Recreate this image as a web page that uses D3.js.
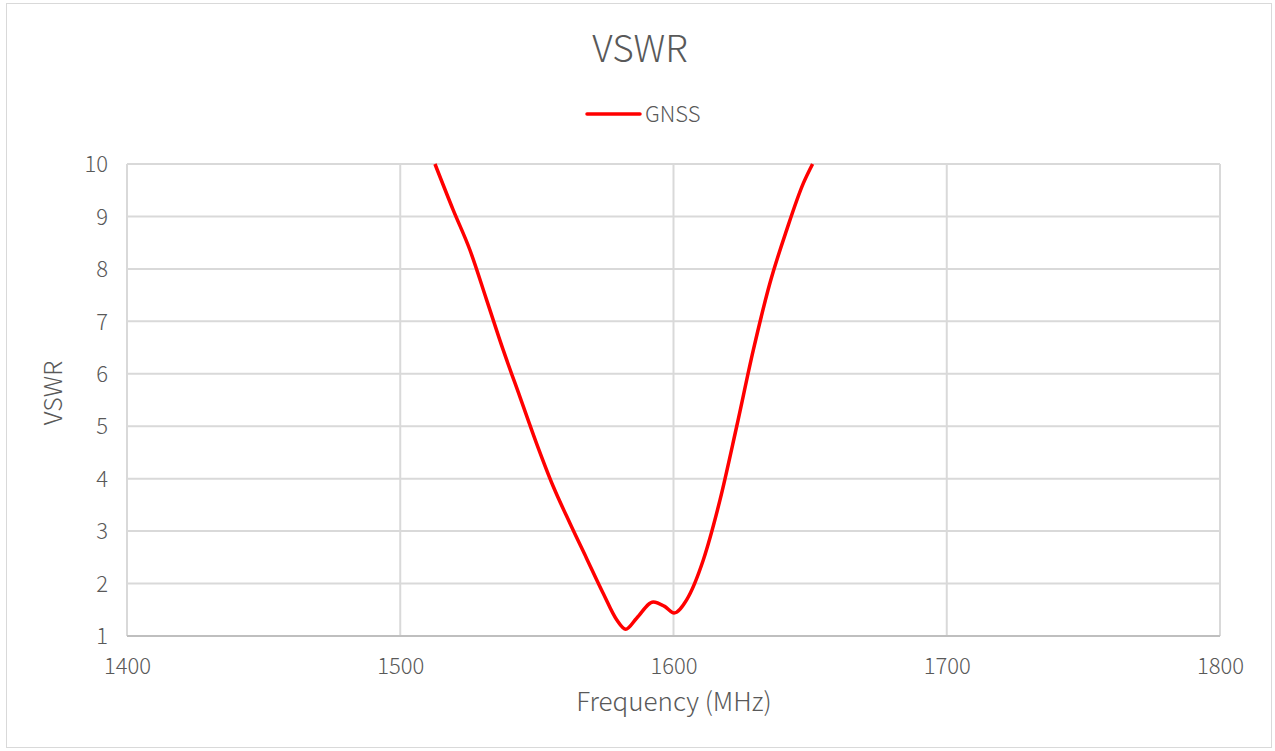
<!DOCTYPE html>
<html><head><meta charset="utf-8">
<script src="https://cdn.jsdelivr.net/npm/d3@7"></script>
<style>body{margin:0;background:#fff}svg{display:block}text{font-family:"Noto Sans CJK SC","Liberation Sans",sans-serif;fill:#595959;font-weight:300}</style>
</head><body>
<script>
const freqs = [1512.7,1519.4,1525.5,1531.6,1537.7,1543.8,1549.9,1556.0,1562.1,1568.2,1574.3,1579.2,1582.5,1586.5,1592.6,1596.9,1600.2,1604.8,1610.9,1617.0,1623.1,1629.2,1635.3,1641.4,1647.5,1650.9];
const vswr  = [10.0,9.12,8.36,7.41,6.45,5.56,4.67,3.85,3.15,2.48,1.81,1.31,1.13,1.34,1.65,1.56,1.44,1.69,2.45,3.59,4.99,6.45,7.73,8.74,9.63,10.0];
const xTicks = [1400,1500,1600,1700,1800];
const yTicks = [1,2,3,4,5,6,7,8,9,10];
const seriesName = "GNSS";

const W=1275,H=751;
const m={left:127,right:1220,top:164,bottom:636};
const svg=d3.select("body").append("svg").attr("width",W).attr("height",H);
svg.append("rect").attr("x",6.5).attr("y",3.5).attr("width",1265).attr("height",744).attr("fill","#fff").attr("stroke","#d9d9d9");
const x=d3.scaleLinear().domain([1400,1800]).range([m.left,m.right]);
const y=d3.scaleLinear().domain([1,10]).range([m.bottom,m.top]);

// gridlines
svg.append("g").selectAll("line").data(yTicks.filter(d=>d>1)).join("line")
 .attr("x1",m.left).attr("x2",m.right).attr("y1",d=>y(d)).attr("y2",d=>y(d))
 .attr("stroke","#d9d9d9").attr("stroke-width",2);
svg.append("g").selectAll("line").data(xTicks).join("line")
 .attr("x1",d=>x(d)).attr("x2",d=>x(d)).attr("y1",m.top).attr("y2",m.bottom)
 .attr("stroke","#d9d9d9").attr("stroke-width",2);
svg.append("line").attr("x1",m.left).attr("x2",m.right).attr("y1",m.bottom).attr("y2",m.bottom).attr("stroke","#bfbfbf").attr("stroke-width",2);

// axes labels
const xa=svg.append("g").attr("transform",`translate(0,${m.bottom+35})`)
 .call(d3.axisBottom(x).tickValues(xTicks).tickSize(0).tickFormat(d3.format("d")));
xa.select(".domain").remove();
xa.selectAll("text").attr("font-size",22).attr("dy","0");
const ya=svg.append("g").attr("transform",`translate(${m.left-19},0)`)
 .call(d3.axisLeft(y).tickValues(yTicks).tickSize(0).tickFormat(d3.format("d")));
ya.select(".domain").remove();
ya.selectAll("text").attr("font-size",22).attr("x",0).attr("dy","0.35em");

// line
svg.append("clipPath").attr("id","c").append("rect").attr("x",m.left).attr("y",m.top-2).attr("width",m.right-m.left).attr("height",m.bottom-m.top+4);
const data=freqs.map((f,i)=>[f,vswr[i]]);
svg.append("path").datum(data).attr("clip-path","url(#c)")
 .attr("fill","none").attr("stroke","#ff0000").attr("stroke-width",3.5).attr("stroke-linejoin","round")
 .attr("d",d3.line().x(d=>x(d[0])).y(d=>y(d[1])).curve(d3.curveMonotoneX));

// titles
svg.append("text").attr("x",640).attr("y",62).attr("text-anchor","middle").attr("font-size",37).text("VSWR");
svg.append("line").attr("x1",587).attr("x2",640).attr("y1",114).attr("y2",114).attr("stroke","#ff0000").attr("stroke-width",3.5).attr("stroke-linecap","round");
svg.append("text").attr("x",645).attr("y",122).attr("font-size",22).text(seriesName);
svg.append("text").attr("x",674).attr("y",711).attr("text-anchor","middle").attr("font-size",26).text("Frequency (MHz)");
svg.append("text").attr("transform",`translate(62,393) rotate(-90)`).attr("text-anchor","middle").attr("font-size",25).text("VSWR");
</script>
</body></html>
